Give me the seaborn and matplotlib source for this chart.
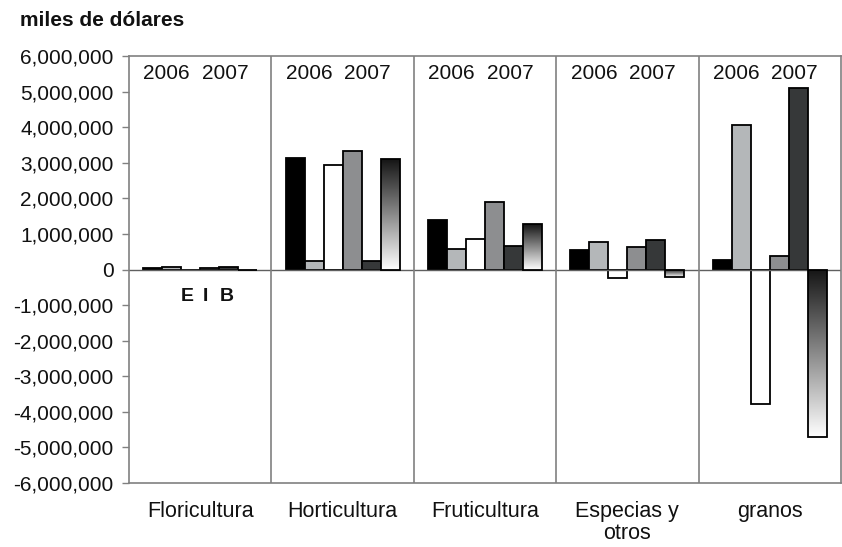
import numpy as np
import pandas as pd
import matplotlib
matplotlib.use("Agg")
import matplotlib.pyplot as plt
from matplotlib.colors import LinearSegmentedColormap
import seaborn as sns

# ---- data (miles de dólares) ----
categorias = ["Floricultura", "Horticultura", "Fruticultura", "Especias y\notros", "granos"]
series = ["E 2006", "I 2006", "B 2006", "E 2007", "I 2007", "B 2007"]
e_2006 = [50000, 3120000, 1400000, 550000, 270000]
i_2006 = [60000, 230000, 580000, 780000, 4060000]
b_2006 = [-10000, 2930000, 870000, -230000, -3780000]
e_2007 = [55000, 3330000, 1900000, 620000, 370000]
i_2007 = [70000, 230000, 650000, 840000, 5090000]
b_2007 = [-15000, 3100000, 1280000, -220000, -4720000]
years = ["2006", "2007"]
yticks = list(range(-6000000, 6000001, 1000000))

colores = ["#000000", "#b3b7ba", "#ffffff", "#8c8e90", "#35383a", "#ffffff"]

rows = []
for s, vals in zip(series, [e_2006, i_2006, b_2006, e_2007, i_2007, b_2007]):
    for c, v in zip(categorias, vals):
        rows.append({"categoria": c, "serie": s, "valor": v})
df = pd.DataFrame(rows)

sns.set_theme(style="white")
plt.rcParams["font.family"] = ["Liberation Sans", "DejaVu Sans"]

fig = plt.figure(figsize=(8.42, 5.47), dpi=100)
ax = fig.add_axes([0.1532, 0.117, 0.8455, 0.7806])

sns.barplot(data=df, x="categoria", y="valor", hue="serie", order=categorias,
            hue_order=series, palette=colores, width=0.8, dodge=True,
            edgecolor="black", linewidth=1.3, ax=ax, legend=False, errorbar=None)

# gradient fill for the last series
cmap = LinearSegmentedColormap.from_list("g", ["#ffffff", "#151515"])
grad = np.linspace(0, 1, 256).reshape(-1, 1)
for p in ax.containers[5].patches:
    x0, y0 = p.get_x(), p.get_y()
    w, h = p.get_width(), p.get_height()
    lo, hi = min(y0, y0 + h), max(y0, y0 + h)
    p.set_facecolor("none")
    p.set_zorder(3)
    im = ax.imshow(grad, cmap=cmap, aspect="auto", origin="lower",
                   extent=[x0, x0 + w, lo, hi], zorder=2, interpolation="bilinear")
    im.set_clip_path(p)

ax.set_xlim(-0.5, 4.5)
ax.set_ylim(-6000000, 6000000)
ax.set_yticks(yticks)
ax.set_yticklabels([f"{v:,}" for v in yticks], fontsize=15, color="#111111")
ax.tick_params(axis="y", which="both", direction="out", length=5, width=1,
               color="#808080", left=True, pad=6)
ax.set_xticks(range(len(categorias)))
ax.set_xticklabels(categorias, fontsize=15.5, color="#111111", linespacing=1.05)
ax.tick_params(axis="x", length=0, pad=13)
ax.set_xlabel("")
ax.set_ylabel("")

for sp in ax.spines.values():
    sp.set_color("#808080")
    sp.set_linewidth(1.2)
ax.axhline(0, color="#606060", lw=1.0, zorder=1)
for xv in [0.5, 1.5, 2.5, 3.5]:
    ax.axvline(xv, color="#808080", lw=1.2, zorder=1)

for i in range(len(categorias)):
    ax.text(i - 0.235, 5500000, years[0], ha="center", va="center", fontsize=15, color="#111111")
    ax.text(i + 0.175, 5500000, years[1], ha="center", va="center", fontsize=15, color="#111111")

for lab, xv in zip(["E", "I", "B"], [-0.094, 0.04, 0.185]):
    ax.text(xv, -760000, lab, ha="center", va="center", fontsize=14,
            fontweight="bold", color="#111111")

fig.text(20 / 842, 1 - 20 / 547, "miles de dólares", ha="left", va="center",
         fontsize=15, fontweight="bold", color="#111111")

fig.savefig("out.png", dpi=100, facecolor="white")
